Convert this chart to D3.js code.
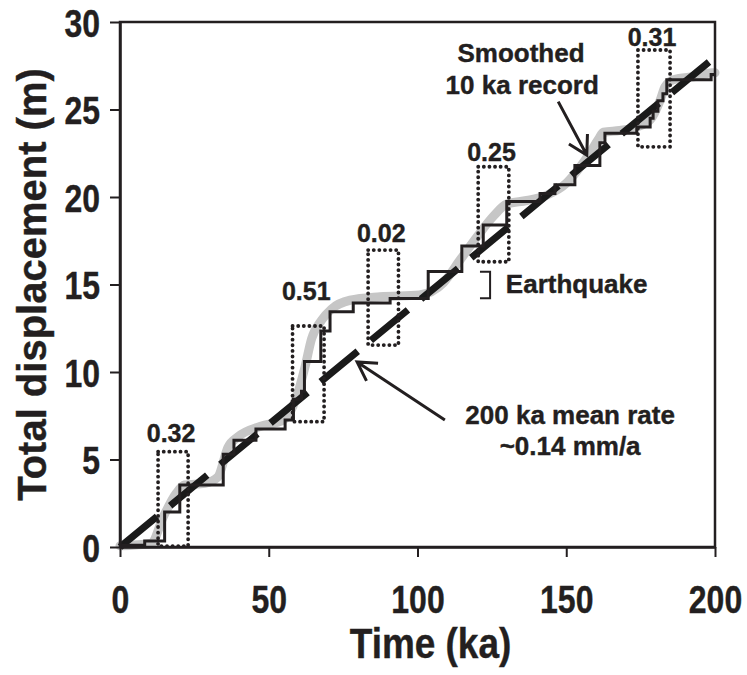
<!DOCTYPE html>
<html>
<head>
<meta charset="utf-8">
<script src="https://cdn.jsdelivr.net/npm/d3@7"></script>
<style>
  body { margin: 0; background: #fff; }
  text { font-family: "Liberation Sans", Arial, sans-serif; font-weight: bold; fill: #231f20; stroke: #231f20; stroke-width: 0.4; }
</style>
</head>
<body>
<div id="chart"></div>
<script>
// stepped displacement record (time of each jump, displacement after it)
const stepTime = [0, 8.3, 15.0, 20.1, 34.7, 38.3, 45.7, 55.5, 58.3, 61.0, 62.0, 67.5, 70.6, 78.4, 90.8,
  103.6, 114.9, 122.1, 130.0, 141.2, 146.2, 152.9, 161.3, 163.0, 173.7, 178.2, 179.2, 180.8, 182.5, 183.8, 198.7, 200];
const stepDisp = [0.1, 0.35, 2.0, 3.55, 5.3, 6.1, 6.75, 7.26, 8.45, 8.9, 10.6, 12.35, 13.45, 13.95, 14.2,
  15.75, 17.2, 18.4, 19.75, 20.2, 20.7, 21.8, 23.1, 23.65, 24.0, 24.5, 24.9, 25.5, 25.9, 26.7, 27.0, 27.0];

// smoothed 10 ka record
const smoothTime = [0, 10.5, 14.5, 18.9, 21.7, 28.5, 32.9, 36.3, 39.7, 47.3, 54.9, 59.4, 62.2, 64.4, 67.8, 71.1,
  77.3, 87.4, 100.6, 108.7, 114.3, 119.9, 125.5, 130, 136.7, 143.4, 150.1, 154.6, 157.9, 160.8, 162.5, 168,
  173.7, 178.2, 181.5, 183.2, 186, 193.8, 198.9, 200];
const smoothDisp = [0.07, 0.2, 1.7, 3.07, 3.54, 3.64, 4.0, 5.7, 6.3, 6.9, 7.26, 8.6, 10.3, 11.9, 12.97, 13.6,
  14.1, 14.3, 14.4, 15.1, 16.4, 17.7, 18.9, 19.6, 19.8, 20.1, 20.8, 21.7, 22.5, 23.3, 23.7, 23.8,
  24.0, 24.4, 25.5, 26.3, 26.7, 26.9, 27.1, 27.1];

// 200 ka mean rate ~0.14 mm/a
const meanTime = [0, 200];
const meanDisp = [0, 28];

// 10 ka windows
const boxLabels = ["0.32", "0.51", "0.02", "0.25", "0.31"];
const boxStart = [12.8, 58.0, 83.4, 120.4, 174.1];
const boxEnd = [22.9, 68.6, 93.6, 130.7, 184.9];
const boxLow = [0.05, 7.16, 11.54, 16.3, 22.87];
const boxHigh = [5.45, 12.63, 16.97, 21.73, 28.4];

const xTicks = [0, 50, 100, 150, 200];
const yTicks = [0, 5, 10, 15, 20, 25, 30];

const width = 747,
    height = 675,
    margin = ({ top: 22, right: 32, bottom: 128, left: 120 });

const svg = d3.select("#chart")
    .append("svg")
    .attr("width", width)
    .attr("height", height);

const x = d3.scaleLinear()
    .domain([0, 200])
    .range([margin.left, width - margin.right]);

const y = d3.scaleLinear()
    .domain([0, 30])
    .range([height - margin.bottom, margin.top]);

// smoothed record (gray, underneath)
const smoothData = smoothTime.map((t, i) => [t, smoothDisp[i]]);
svg.append("path")
    .datum(smoothData)
    .attr("fill", "none")
    .attr("stroke", "#c6c6c6")
    .attr("stroke-width", 9)
    .attr("stroke-linecap", "round")
    .attr("stroke-linejoin", "round")
    .attr("d", d3.line().x(d => x(d[0])).y(d => y(d[1])).curve(d3.curveMonotoneX));

// mean rate dashed line
svg.append("path")
    .datum(meanTime.map((t, i) => [t, meanDisp[i]]))
    .attr("fill", "none")
    .attr("stroke", "#1a1a1a")
    .attr("stroke-width", 7)
    .attr("stroke-dasharray", "48 17")
    .attr("d", d3.line().x(d => x(d[0])).y(d => y(d[1])));

// stepped record
const stepData = stepTime.map((t, i) => [t, stepDisp[i]]);
svg.append("path")
    .datum(stepData)
    .attr("fill", "none")
    .attr("stroke", "#231f20")
    .attr("stroke-width", 3)
    .attr("d", d3.line().x(d => x(d[0])).y(d => y(d[1])).curve(d3.curveStepAfter));

// dotted windows
const boxes = boxLabels.map((l, i) => ({ label: l, t0: boxStart[i], t1: boxEnd[i], d0: boxLow[i], d1: boxHigh[i] }));
svg.selectAll(".win")
    .data(boxes)
    .join("rect")
    .attr("class", "win")
    .attr("x", d => x(d.t0))
    .attr("y", d => y(d.d1))
    .attr("width", d => x(d.t1) - x(d.t0))
    .attr("height", d => y(d.d0) - y(d.d1))
    .attr("fill", "none")
    .attr("stroke", "#231f20")
    .attr("stroke-width", 3.8)
    .attr("stroke-linecap", "round")
    .attr("stroke-dasharray", "0.1 5.5");

const labelLift = [10, 26, 8, 6, 4]; // gap between label baseline and box top
svg.selectAll(".win-label")
    .data(boxes)
    .join("text")
    .attr("class", "win-label")
    .attr("text-anchor", "middle")
    .attr("font-size", 25)
    .attr("x", d => (x(d.t0) + x(d.t1)) / 2 - 2)
    .attr("y", (d, i) => y(d.d1) - labelLift[i])
    .text(d => d.label);

// frame
svg.append("rect")
    .attr("x", x(0))
    .attr("y", y(30))
    .attr("width", x(200) - x(0))
    .attr("height", y(0) - y(30))
    .attr("fill", "none")
    .attr("stroke", "#231f20")
    .attr("stroke-width", 2.5);

// axes
const xAxis = svg.append("g")
    .attr("transform", `translate(0,${y(0)})`)
    .call(d3.axisBottom(x).tickValues(xTicks).tickSize(10).tickSizeOuter(0));
xAxis.select(".domain").attr("stroke", "#231f20").attr("stroke-width", 2.5);
xAxis.selectAll(".tick line").attr("stroke", "#231f20").attr("stroke-width", 2);
xAxis.selectAll(".tick text")
    .attr("y", 66).attr("dy", 0)
    .attr("font-size", 39)
    .attr("transform", "scale(0.82,1)")
    .attr("fill", "#231f20");

const yAxis = svg.append("g")
    .attr("transform", `translate(${x(0)},0)`)
    .call(d3.axisLeft(y).tickValues(yTicks).tickSize(10).tickSizeOuter(0));
yAxis.select(".domain").attr("stroke", "#231f20").attr("stroke-width", 2.5);
yAxis.selectAll(".tick line").attr("stroke", "#231f20").attr("stroke-width", 2);
yAxis.selectAll(".tick text")
    .attr("x", -20 / 0.82).attr("dy", "0.36em")
    .attr("font-size", 39)
    .attr("transform", "scale(0.82,1)")
    .attr("fill", "#231f20");
svg.selectAll(".tick text").attr("font-family", null);

svg.append("text") // x axis label
    .attr("text-anchor", "middle")
    .attr("font-size", 42)
    .attr("transform", `translate(${(x(0) + x(200)) / 2 + 13},658) scale(0.88,1)`)
    .text("Time (ka)");

svg.append("text") // y axis label
    .attr("text-anchor", "middle")
    .attr("font-size", 40)
    .attr("transform", `translate(46,${(y(0) + y(30)) / 2}) rotate(-90)`)
    .text("Total displacement (m)");

// annotations
svg.append("text").attr("text-anchor", "middle").attr("font-size", 26)
    .attr("x", x(134.8)).attr("y", y(27.7)).text("Smoothed");
svg.append("text").attr("text-anchor", "middle").attr("font-size", 26)
    .attr("x", x(135.2)).attr("y", y(25.9)).text("10 ka record");
svg.append("text").attr("text-anchor", "middle").attr("font-size", 26)
    .attr("x", x(151.3)).attr("y", y(7.03)).text("200 ka mean rate");
svg.append("text").attr("text-anchor", "middle").attr("font-size", 26)
    .attr("x", x(151.3)).attr("y", y(5.26)).text("~0.14 mm/a");
svg.append("text").attr("font-size", 26)
    .attr("x", x(129.7)).attr("y", y(14.5)).text("Earthquake");

// earthquake bracket
svg.append("path")
    .attr("fill", "none")
    .attr("stroke", "#231f20")
    .attr("stroke-width", 2)
    .attr("d", `M${x(121)},${y(15.73)}H${x(124.4)}V${y(14.21)}H${x(121)}`);

// arrows
function arrow(tail, tip) {
    const x1 = x(tail[0]), y1 = y(tail[1]), x2 = x(tip[0]), y2 = y(tip[1]);
    const a = Math.atan2(y1 - y2, x1 - x2), len = 21, spread = Math.PI / 6;
    svg.append("path")
        .attr("fill", "none")
        .attr("stroke", "#231f20")
        .attr("stroke-width", 3)
        .attr("d", `M${x1},${y1}L${x2},${y2}` +
            `M${x2 + len * Math.cos(a - spread)},${y2 + len * Math.sin(a - spread)}L${x2},${y2}` +
            `L${x2 + len * Math.cos(a + spread)},${y2 + len * Math.sin(a + spread)}`);
}
arrow([147.3, 25.45], [156.9, 22.4]);
arrow([109.2, 7.26], [79.7, 10.57]);
</script>
</body>
</html>
